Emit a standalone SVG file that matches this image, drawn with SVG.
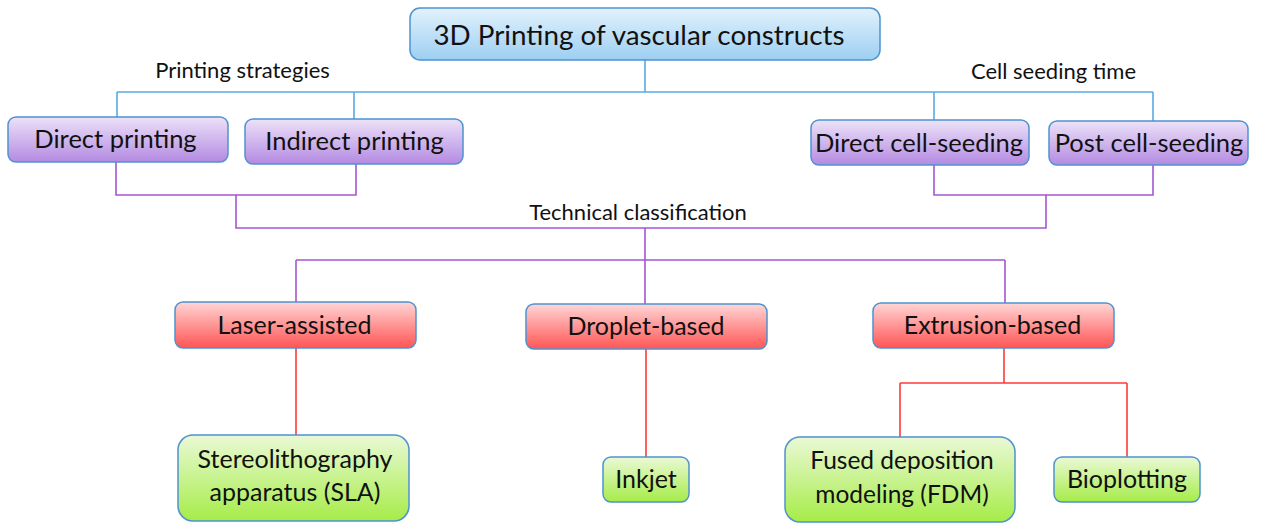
<svg xmlns="http://www.w3.org/2000/svg" width="1264" height="523" viewBox="0 0 1264 523">
<defs>
<linearGradient id="gBlue" x1="0" y1="0" x2="0" y2="1"><stop offset="0" stop-color="#e3f2fc"/><stop offset="1" stop-color="#9ccff2"/></linearGradient>
<linearGradient id="gPurple" x1="0" y1="0" x2="0" y2="1"><stop offset="0" stop-color="#ece2f8"/><stop offset="1" stop-color="#b48ae2"/></linearGradient>
<linearGradient id="gRed" x1="0" y1="0" x2="0" y2="1"><stop offset="0" stop-color="#ffd6d6"/><stop offset="1" stop-color="#ff5555"/></linearGradient>
<linearGradient id="gGreen" x1="0" y1="0" x2="0" y2="1"><stop offset="0" stop-color="#eaf9d6"/><stop offset="1" stop-color="#a6ec48"/></linearGradient>
</defs>
<style>
.box{stroke:#4f93cf;stroke-width:1.5}
.t{font-family:Lato,"Open Sans","Liberation Sans",sans-serif;fill:#111;text-anchor:middle}
.lbl{font-family:Lato,"Open Sans","Liberation Sans",sans-serif;fill:#111;text-anchor:middle;font-size:22px}
.cb{stroke:#5aaae4;stroke-width:1.6;fill:none}
.cp{stroke:#a555d2;stroke-width:1.6;fill:none}
.cr{stroke:#ff3a3a;stroke-width:1.6;fill:none}
</style>
<rect width="1264" height="523" fill="#ffffff"/>
<g id="connectors">
<path class="cb" d="M645 60V92M117 92H1153M117 92V117M354 92V119M934 92V120M1153 92V121"/>
<path class="cp" d="M116 162V195H356V164M236 195V228H1046V195M934 165V195H1153V165M645 228V260M296 260H1005M296 260V302M645 260V304M1005 260V303"/>
<path class="cr" d="M296 348V435M646 349V457M1004 348V383M900 383H1127M900 383V437M1127 383V457"/>
</g>
<g id="title"><rect class="box" x="410" y="8" width="470" height="52" rx="10" fill="url(#gBlue)"/><text class="t" x="639" y="45" font-size="27.8">3D Printing of vascular constructs</text></g>
<g id="lbl-strategies"><text class="lbl" x="242.5" y="78">Printing strategies</text></g>
<g id="lbl-seeding"><text class="lbl" x="1053.5" y="79">Cell seeding time</text></g>
<g id="lbl-tech"><text class="lbl" x="638" y="220">Technical classification</text></g>
<g id="direct-printing"><rect class="box" x="8" y="117" width="220" height="45" rx="8" fill="url(#gPurple)"/><text class="t" x="115.5" y="148" font-size="25.5">Direct printing</text></g>
<g id="indirect-printing"><rect class="box" x="245" y="119" width="218" height="45" rx="8" fill="url(#gPurple)"/><text class="t" x="354.5" y="150" font-size="25.5">Indirect printing</text></g>
<g id="direct-cell"><rect class="box" x="811" y="120" width="218" height="45" rx="8" fill="url(#gPurple)"/><text class="t" x="919" y="152" font-size="25.5">Direct cell-seeding</text></g>
<g id="post-cell"><rect class="box" x="1049" y="121" width="199" height="44" rx="8" fill="url(#gPurple)"/><text class="t" x="1149" y="152" font-size="25.5">Post cell-seeding</text></g>
<g id="laser"><rect class="box" x="175" y="302" width="241" height="46" rx="8" fill="url(#gRed)"/><text class="t" x="294.5" y="334" font-size="25">Laser-assisted</text></g>
<g id="droplet"><rect class="box" x="526" y="304" width="241" height="45" rx="8" fill="url(#gRed)"/><text class="t" x="646" y="335" font-size="25">Droplet-based</text></g>
<g id="extrusion"><rect class="box" x="873" y="303" width="241" height="45" rx="8" fill="url(#gRed)"/><text class="t" x="992.5" y="334" font-size="25">Extrusion-based</text></g>
<g id="sla"><rect class="box" x="178" y="435" width="231" height="86" rx="15" fill="url(#gGreen)"/><text class="t" x="295" y="468" font-size="25">Stereolithography</text><text class="t" x="295" y="501" font-size="25">apparatus (SLA)</text></g>
<g id="inkjet"><rect class="box" x="603" y="457" width="86" height="45" rx="8" fill="url(#gGreen)"/><text class="t" x="646" y="488" font-size="25">Inkjet</text></g>
<g id="fdm"><rect class="box" x="785" y="437" width="230" height="85" rx="15" fill="url(#gGreen)"/><text class="t" x="902" y="469" font-size="24.5">Fused deposition</text><text class="t" x="902" y="503" font-size="24.5">modeling (FDM)</text></g>
<g id="bioplotting"><rect class="box" x="1054" y="457" width="146" height="45" rx="8" fill="url(#gGreen)"/><text class="t" x="1127" y="488" font-size="25">Bioplotting</text></g>
</svg>
